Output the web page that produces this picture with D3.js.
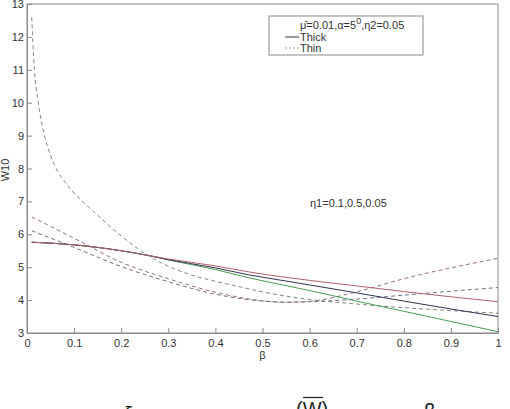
<!DOCTYPE html>
<html>
<head>
<meta charset="utf-8">
<script src="https://cdn.jsdelivr.net/npm/d3@7"></script>
<style>
  body { margin: 0; background: #fff; }
  text { font-family: "Liberation Sans", Arial, sans-serif; }
</style>
</head>
<body>
<div id="chart"></div>
<script>
// beta values and W10 readings
const betaA = [0.01, 0.0157, 0.024, 0.037, 0.05, 0.062, 0.08, 0.1, 0.12, 0.15, 0.2, 0.25, 0.3, 0.35, 0.4, 0.45, 0.5, 0.55, 0.6, 0.7, 0.8, 0.9, 1.0];
const thinA = [12.6, 11.0, 10.0, 9.0, 8.4, 8.0, 7.6, 7.25, 6.97, 6.58, 5.95, 5.42, 5.03, 4.76, 4.57, 4.41, 4.25, 4.12, 4.02, 3.88, 3.77, 3.68, 3.6];

const beta = [0.01, 0.1, 0.2, 0.3, 0.4, 0.5, 0.55, 0.6, 0.7, 0.8, 0.9, 1.0];
const thinB = [6.53, 5.88, 5.15, 4.65, 4.24, 3.98, 3.93, 3.96, 4.25, 4.65, 4.98, 5.27];
const thinC = [6.11, 5.6, 5.02, 4.56, 4.18, 3.97, 3.94, 3.95, 4.03, 4.15, 4.27, 4.38];

const betaS = [0.01, 0.1, 0.2, 0.26, 0.3, 0.4, 0.47, 0.55, 0.6, 0.7, 0.8, 0.9, 1.0];
const thickRed   = [5.76, 5.68, 5.5, 5.35, 5.25, 5.04, 4.86, 4.69, 4.6, 4.43, 4.26, 4.1, 3.95];
const thickDark  = [5.76, 5.68, 5.5, 5.35, 5.23, 4.98, 4.77, 4.58, 4.46, 4.22, 3.97, 3.73, 3.5];
const thickGreen = [5.76, 5.68, 5.5, 5.35, 5.22, 4.93, 4.68, 4.44, 4.29, 3.97, 3.66, 3.35, 3.04];

const xTicks = [0, 0.1, 0.2, 0.3, 0.4, 0.5, 0.6, 0.7, 0.8, 0.9, 1];
const yTicks = [3, 4, 5, 6, 7, 8, 9, 10, 11, 12, 13];

const W = 510, H = 409;
const margin = {top: 4, right: 12, bottom: 76, left: 27};
const width = W - margin.left - margin.right,
      height = H - margin.top - margin.bottom;

const svg = d3.select("#chart").append("svg")
    .attr("width", W)
    .attr("height", H);

const g = svg.append("g")
    .attr("transform", `translate(${margin.left},${margin.top})`);

const x = d3.scaleLinear().domain([0, 1]).range([0, width]);
const y = d3.scaleLinear().domain([3, 13]).range([height, 0]);

// box
g.append("rect")
    .attr("width", width).attr("height", height)
    .attr("fill", "none").attr("stroke", "#8a8a8a");

// axes with inward ticks
const xAxis = g.append("g")
    .attr("transform", `translate(0,${height})`)
    .call(d3.axisBottom(x).tickValues(xTicks).tickSizeInner(-5).tickSizeOuter(0).tickPadding(6)
      .tickFormat(d => d === 0 || d === 1 ? d3.format("d")(d) : d3.format(".1f")(d)));
const yAxis = g.append("g")
    .call(d3.axisLeft(y).tickValues(yTicks).tickSizeInner(-5).tickSizeOuter(0).tickPadding(3));

[xAxis, yAxis].forEach(a => {
  a.select(".domain").attr("stroke", "#8a8a8a");
  a.selectAll(".tick line").attr("stroke", "#8a8a8a");
  a.selectAll(".tick text").attr("fill", "#333").style("font-size", "11px")
    .style("font-family", "'Liberation Sans', Arial, sans-serif");
});

const line = (xs) => d3.line()
    .x((d, i) => x(xs[i]))
    .y(d => y(d))
    .curve(d3.curveMonotoneX);

// thin (dashed)
const thin = [
  {xs: betaA, ys: thinA, color: "#7d8a80"},
  {xs: beta, ys: thinB, color: "#9a7080"},
  {xs: beta, ys: thinC, color: "#707088"}
];
thin.forEach(s => {
  g.append("path")
    .attr("d", line(s.xs)(s.ys))
    .attr("fill", "none")
    .attr("stroke", s.color)
    .attr("stroke-width", 1)
    .attr("stroke-dasharray", "4,3");
});

// thick (solid)
const thick = [
  {ys: thickGreen, color: "#4a9a55"},
  {ys: thickDark, color: "#33334f"},
  {ys: thickRed, color: "#b0606e"}
];
thick.forEach(s => {
  g.append("path")
    .attr("d", line(betaS)(s.ys))
    .attr("fill", "none")
    .attr("stroke", s.color)
    .attr("stroke-width", 1);
});

// axis labels
svg.append("text")
    .attr("transform", "translate(9,170) rotate(-90)")
    .attr("text-anchor", "middle")
    .attr("fill", "#333")
    .style("font-size", "11px")
    .text("W10");

svg.append("text")
    .attr("x", margin.left + x(0.5))
    .attr("y", 359)
    .attr("text-anchor", "middle")
    .attr("fill", "#333")
    .style("font-size", "11px")
    .text("β");

// annotation
svg.append("text")
    .attr("x", 310)
    .attr("y", 207)
    .attr("fill", "#333")
    .style("font-size", "11px")
    .text("η1=0.1,0.5,0.05");

// legend
const lg = svg.append("g");
lg.append("rect")
    .attr("x", 269).attr("y", 16).attr("width", 154).attr("height", 39)
    .attr("fill", "#fff").attr("stroke", "#8a8a8a");
const l1 = lg.append("text").attr("x", 300).attr("y", 29)
    .attr("fill", "#333").style("font-size", "11px");
l1.append("tspan").text("μ̄=0.01,α=5");
l1.append("tspan").attr("dy", -5).style("font-size", "9px").text("0");
l1.append("tspan").attr("dy", 5).text(",η2=0.05");
lg.append("line").attr("x1", 285).attr("x2", 299).attr("y1", 37).attr("y2", 37)
    .attr("stroke", "#333");
lg.append("text").attr("x", 300).attr("y", 41)
    .attr("fill", "#333").style("font-size", "11px").text("Thick");
lg.append("line").attr("x1", 285).attr("x2", 299).attr("y1", 48).attr("y2", 48)
    .attr("stroke", "#999").attr("stroke-dasharray", "2,2");
lg.append("text").attr("x", 300).attr("y", 52)
    .attr("fill", "#333").style("font-size", "11px").text("Thin");

// caption, cut off by the image edge
const cap = svg.append("g").attr("fill", "#222")
    .style("font-family", "'Liberation Serif', 'Times New Roman', serif")
    .style("font-size", "20px");
cap.append("text").attr("x", 124).attr("y", 421).text("ξ");
cap.append("text").attr("x", 296).attr("y", 416).text("(W)");
cap.append("line").attr("x1", 303).attr("x2", 323).attr("y1", 397.5).attr("y2", 397.5)
    .attr("stroke", "#222").attr("stroke-width", 1.2);
cap.append("text").attr("x", 424).attr("y", 418).text("β");
</script>
</body>
</html>
